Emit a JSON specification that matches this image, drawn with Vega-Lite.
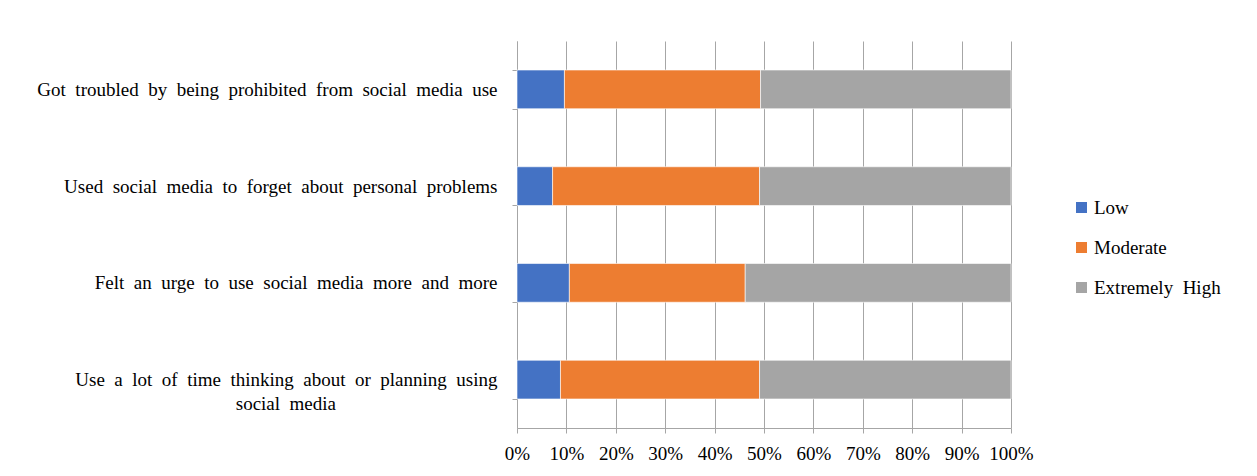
{
  "$schema": "https://vega.github.io/schema/vega-lite/v6.json",
  "width": 494,
  "height": 387,
  "autosize": {"type": "none"},
  "padding": {"left": 517, "top": 41, "right": 246, "bottom": 48},
  "background": "white",
  "config": {
    "font": "Liberation Serif",
    "view": {"stroke": null}
  },
  "data": {
    "values": [
      {"item": "Got troubled by being prohibited from social media use", "level": "Low", "rank": 1, "pct": 9.6},
      {"item": "Got troubled by being prohibited from social media use", "level": "Moderate", "rank": 2, "pct": 39.7},
      {"item": "Got troubled by being prohibited from social media use", "level": "Extremely High", "rank": 3, "pct": 50.7},
      {"item": "Used social media to forget about personal problems", "level": "Low", "rank": 1, "pct": 7.2},
      {"item": "Used social media to forget about personal problems", "level": "Moderate", "rank": 2, "pct": 41.9},
      {"item": "Used social media to forget about personal problems", "level": "Extremely High", "rank": 3, "pct": 50.9},
      {"item": "Felt an urge to use social media more and more", "level": "Low", "rank": 1, "pct": 10.6},
      {"item": "Felt an urge to use social media more and more", "level": "Moderate", "rank": 2, "pct": 35.6},
      {"item": "Felt an urge to use social media more and more", "level": "Extremely High", "rank": 3, "pct": 53.8},
      {"item": "Use a lot of time thinking about or planning using|social media", "level": "Low", "rank": 1, "pct": 8.8},
      {"item": "Use a lot of time thinking about or planning using|social media", "level": "Moderate", "rank": 2, "pct": 40.3},
      {"item": "Use a lot of time thinking about or planning using|social media", "level": "Extremely High", "rank": 3, "pct": 50.9}
    ]
  },
  "mark": {"type": "bar", "stroke": "white", "strokeWidth": 0.6},
  "encoding": {
    "y": {
      "field": "item",
      "type": "nominal",
      "sort": null,
      "title": null,
      "scale": {"paddingInner": 0.6, "paddingOuter": 0.3},
      "axis": {
        "labelExpr": "indexof(datum.label, '|') >= 0 ? [replace(split(datum.label, '|')[0], / /g, '\u2002'), replace(split(datum.label, '|')[1], / /g, '\u2002') + '\u2002\u2002\u2002\u2002\u2002\u2002\u2002\u2002\u2002\u2002\u2002\u2002\u2002\u2002\u2002\u2002\u2002\u200C'] : replace(datum.label, / /g, '\u2002')",
        "tickBand": "extent",
        "tickSize": 5,
        "tickColor": "#a6a6a6",
        "domainColor": "#a6a6a6",
        "labelFont": "Liberation Serif",
        "labelFontSize": 19,
        "labelColor": "#000000",
        "labelPadding": 15,
        "labelLineHeight": 24,
        "labelLimit": 600,
        "grid": false
      }
    },
    "x": {
      "field": "pct",
      "type": "quantitative",
      "stack": "normalize",
      "title": null,
      "scale": {"domain": [0, 1], "nice": false},
      "axis": {
        "values": [0, 0.1, 0.2, 0.3, 0.4, 0.5, 0.6, 0.7, 0.8, 0.9, 1],
        "format": ".0%",
        "grid": true,
        "gridColor": "#a6a6a6",
        "gridWidth": 1,
        "tickColor": "#a6a6a6",
        "tickSize": 5,
        "domainColor": "#a6a6a6",
        "labelFont": "Liberation Serif",
        "labelFontSize": 19,
        "labelColor": "#000000",
        "labelPadding": 11,
        "labelFlush": false,
        "labelOverlap": false
      }
    },
    "color": {
      "field": "level",
      "type": "nominal",
      "title": null,
      "scale": {
        "domain": ["Low", "Moderate", "Extremely High"],
        "range": ["#4472C4", "#ED7D31", "#A5A5A5"]
      },
      "legend": {
        "orient": "none",
        "legendX": 555,
        "legendY": 157,
        "symbolType": "square",
        "symbolSize": 121,
        "symbolStrokeWidth": 0,
        "labelExpr": "replace(datum.label, / /g, '\u2002')",
        "labelFont": "Liberation Serif",
        "labelFontSize": 19,
        "labelColor": "#000000",
        "labelOffset": 3,
        "rowPadding": 20,
        "labelLimit": 300
      }
    },
    "order": {"field": "rank", "type": "quantitative", "sort": "ascending"}
  }
}
